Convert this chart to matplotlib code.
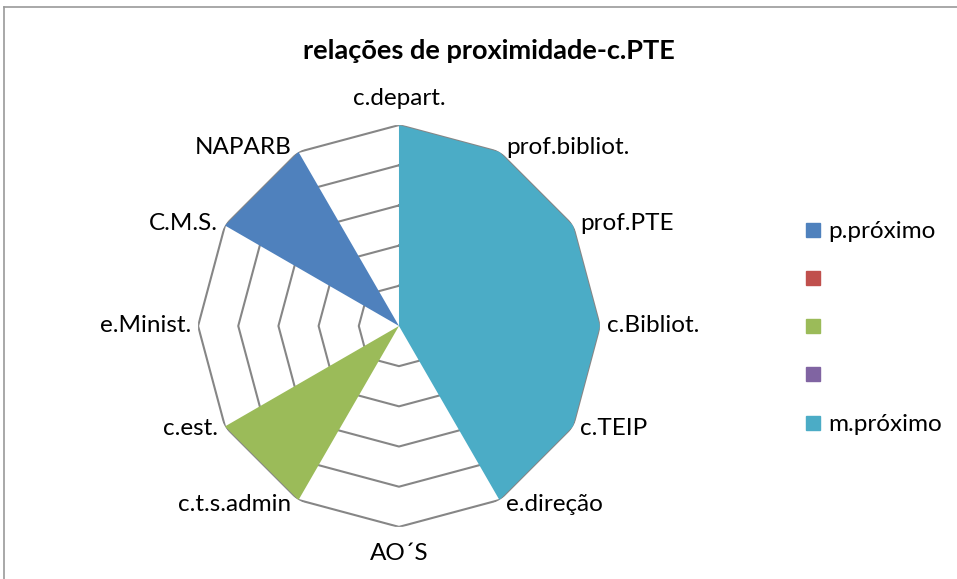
import numpy as np
import matplotlib
matplotlib.use('Agg')
import matplotlib.pyplot as plt
from matplotlib.lines import Line2D

# categories clockwise from the top
categories = ['c.depart.', 'prof.bibliot.', 'prof.PTE', 'c.Bibliot.', 'c.TEIP', 'e.direção',
              'AO´S', 'c.t.s.admin', 'c.est.', 'e.Minist.', 'C.M.S.', 'NAPARB']
series_names = ['p.próximo', '', '', '', 'm.próximo']
p_proximo = [0, 0, 0, 0, 0, 0, 0, 0, 0, 0, 5, 5]
serie2 = [0, 0, 0, 0, 0, 0, 0, 0, 0, 0, 0, 0]
serie3 = [0, 0, 0, 0, 0, 0, 0, 5, 5, 0, 0, 0]
serie4 = [0, 0, 0, 0, 0, 0, 0, 0, 0, 0, 0, 0]
m_proximo = [5, 5, 5, 5, 5, 5, 0, 0, 0, 0, 0, 0]
levels = [1, 2, 3, 4, 5]
colors = ['#4F81BD', '#C0504D', '#9BBB59', '#8064A2', '#4BACC6']

plt.rcParams['font.family'] = ['Lato', 'DejaVu Sans']

fig = plt.figure(figsize=(9.57, 5.79), dpi=100)
ax = fig.add_axes([0.2069, 0.090, 0.420, 0.694], projection='polar')
ax.set_theta_zero_location('N')
ax.set_theta_direction(-1)

n = len(categories)
theta = np.arange(n) * 2 * np.pi / n
th_closed = np.append(theta, theta[0])

# polygon grid rings
for lv in levels:
    ax.plot(th_closed, [lv] * (n + 1), color='#868686', lw=1.5, zorder=1)

all_series = [p_proximo, serie2, serie3, serie4, m_proximo]
for vals, col in zip(all_series, colors):
    v = np.append(vals, vals[0])
    ax.fill(th_closed, v, color=col, lw=0, zorder=2)

ax.set_ylim(0, 5)
ax.set_xticks([])
ax.set_yticks([])
ax.grid(False)
ax.spines['polar'].set_visible(False)
ax.patch.set_visible(False)

# category labels
for t, lab in zip(theta, categories):
    s, c = np.sin(t), np.cos(t)
    if abs(s) < 0.1:
        ha = 'center'
        dx, dy = 0, 27 * np.sign(c)
    else:
        ha = 'left' if s > 0 else 'right'
        dx, dy = 7 * np.sign(s), 5 * c
    ax.annotate(lab, xy=(t, 5), xytext=(dx, dy), textcoords='offset pixels',
                ha=ha, va='center', fontsize=17.5, color='#000000')

fig.text(0.511, 0.912, 'relações de proximidade-c.PTE', ha='center', va='center',
         fontsize=19.5, fontweight='bold')

handles = [Line2D([], [], marker='s', ls='', markersize=10, color=col) for col in colors]
fig.legend(handles, series_names, loc='upper left', bbox_to_anchor=(0.827, 0.635),
           frameon=False, fontsize=17.5, handletextpad=0.1, labelspacing=1.12,
           handlelength=1.0, borderaxespad=0)

# chart frame
fig.add_artist(Line2D([4 / 957, 4 / 957], [0, 1 - 7 / 579], color='#9a9a9a', lw=1.2))
fig.add_artist(Line2D([4 / 957, 1], [1 - 7 / 579, 1 - 7 / 579], color='#9a9a9a', lw=1.2))

fig.savefig('out.png', dpi=100)
